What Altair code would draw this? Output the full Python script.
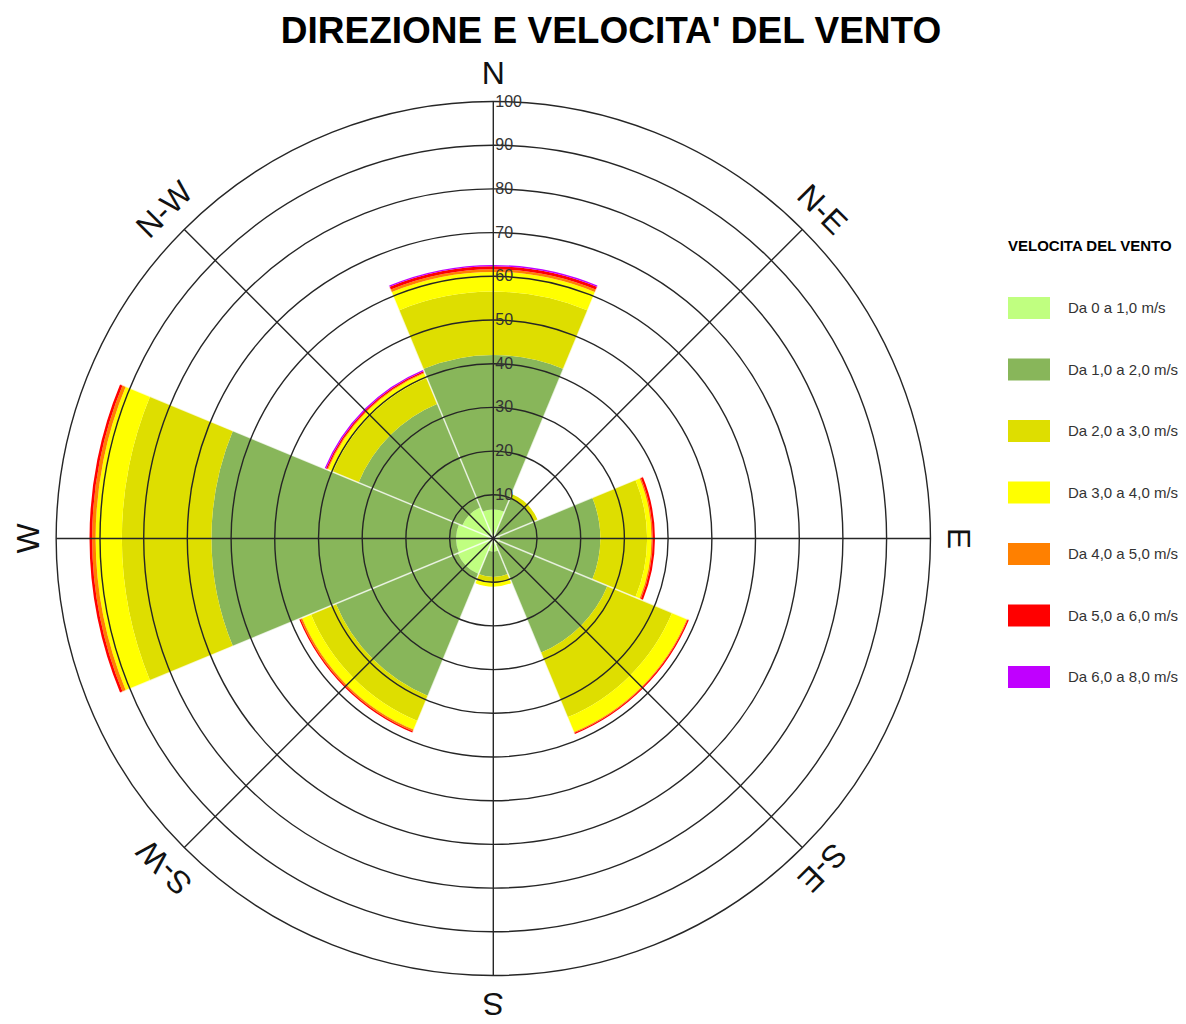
import altair as alt
import pandas as pd
import numpy as np

# ---------------- data ----------------
directions = ["N", "N-E", "E", "S-E", "S", "S-W", "W", "N-W"]
dir_angles = [0, 45, 90, 135, 180, 225, 270, 315]

classes = ["Da 0 a 1,0 m/s", "Da 1,0 a 2,0 m/s", "Da 2,0 a 3,0 m/s",
           "Da 3,0 a 4,0 m/s", "Da 4,0 a 5,0 m/s", "Da 5,0 a 6,0 m/s",
           "Da 6,0 a 8,0 m/s"]
colors = ["#c0ff80", "#88b65a", "#dede00", "#ffff00", "#ff8000", "#ff0000", "#c000ff"]

# frequency of each speed class per direction (N, N-E, E, S-E, S, S-W, W, N-W)
v_0_1 = [6.6, 1.0, 1.5, 1.5, 3.0, 8.8, 8.5, 7.7]
v_1_2 = [35.4, 9.0, 23.0, 26.8, 5.8, 30.2, 56.0, 25.7]
v_2_3 = [14.5, 1.0, 10.7, 16.0, 1.4, 6.2, 20.5, 6.4]
v_3_4 = [4.5, 0.0, 1.0, 3.7, 0.8, 2.2, 6.0, 1.2]
v_4_5 = [0.6, 0.0, 0.3, 0.2, 0.0, 0.4, 0.8, 0.2]
v_5_6 = [0.7, 0.0, 0.5, 0.3, 0.0, 0.3, 0.6, 0.3]
v_6_8 = [0.3, 0.0, 0.0, 0.0, 0.0, 0.0, 0.0, 0.3]
series = [v_0_1, v_1_2, v_2_3, v_3_4, v_4_5, v_5_6, v_6_8]

ring_values = [10, 20, 30, 40, 50, 60, 70, 80, 90, 100]
sector_width = 45

# ---------------- build tables ----------------
rows = []
for i, d in enumerate(directions):
    base = 0.0
    for c, vals in zip(classes, series):
        v = vals[i]
        if v > 0:
            rows.append({"dir": d, "cls": c,
                         "t1": dir_angles[i] - sector_width / 2,
                         "t2": dir_angles[i] + sector_width / 2,
                         "r1": base, "r2": base + v})
        base += v
bars = pd.DataFrame(rows)

rings = pd.DataFrame({"r": ring_values, "t1": 0, "t2": 360})

rad = np.radians(dir_angles)
spokes = pd.DataFrame({"x0": 0.0, "y0": 0.0,
                       "x1": 100 * np.sin(rad), "y1": 100 * np.cos(rad)})
brad = np.radians(np.array(dir_angles) + sector_width / 2)
bounds = pd.DataFrame({"x0": 0.0, "y0": 0.0,
                       "x1": 100 * np.sin(brad), "y1": 100 * np.cos(brad)})

labels = pd.DataFrame({"lab": directions, "ang": dir_angles,
                       "x": 106.3 * np.sin(rad), "y": 106.3 * np.cos(rad)})
ticks = pd.DataFrame({"v": ring_values, "x": 0.0, "txt": [str(v) for v in ring_values]})

# ---------------- geometry ----------------
CX, CY, R = 485.3, 474.5, 437.0
W, H = 1170, 960

theta_scale = alt.Scale(domain=[0, 360], range=[0, 2 * np.pi])
radius_scale = alt.Scale(type="linear", domain=[0, 100], range=[0, R], zero=True, nice=False)
xs = alt.Scale(domain=[-100, 100], range=[CX - R, CX + R], nice=False, zero=False)
ys = alt.Scale(domain=[-100, 100], range=[CY + R, CY - R], nice=False, zero=False)

FONT = "Liberation Sans"

bar_layer = alt.Chart(bars).mark_arc(stroke=None).encode(
    x=alt.value(CX), y=alt.value(CY),
    theta=alt.Theta("t1:Q", scale=theta_scale, stack=None),
    theta2="t2:Q",
    radius=alt.Radius("r2:Q", scale=radius_scale),
    radius2="r1:Q",
    color=alt.Color("cls:N", scale=alt.Scale(domain=classes, range=colors),
                    legend=alt.Legend(
                        title="VELOCITA DEL VENTO", orient="none",
                        legendX=1000, legendY=175, padding=0,
                        titleFont=FONT, titleFontSize=15, titleFontWeight="bold",
                        titleColor="black", titlePadding=33, titleLimit=400,
                        labelFont=FONT, labelFontSize=15, labelColor="#333333",
                        labelLimit=400, labelOffset=18,
                        symbolType="M-1,-0.524H1V0.524H-1Z", symbolSize=1764,
                        symbolStrokeWidth=0, symbolOpacity=1, rowPadding=28.5,
                        direction="vertical")),
)

bound_layer = alt.Chart(bounds).mark_rule(color="#ffffff", strokeWidth=1.5, opacity=0.75).encode(
    x=alt.X("x0:Q", scale=xs, axis=None), y=alt.Y("y0:Q", scale=ys, axis=None),
    x2="x1:Q", y2="y1:Q",
)

ring_layer = alt.Chart(rings).mark_arc(filled=False, stroke="#262626", strokeWidth=1.4).encode(
    x=alt.value(CX), y=alt.value(CY),
    theta=alt.Theta("t1:Q", scale=theta_scale, stack=None),
    theta2="t2:Q",
    radius=alt.Radius("r:Q", scale=radius_scale),
)

spoke_layer = alt.Chart(spokes).mark_rule(color="#262626", strokeWidth=1.4).encode(
    x=alt.X("x0:Q", scale=xs, axis=None), y=alt.Y("y0:Q", scale=ys, axis=None),
    x2="x1:Q", y2="y1:Q",
)

tick_layer = alt.Chart(ticks).mark_text(
    align="left", baseline="middle", dx=2, font=FONT, fontSize=16, color="#333333"
).encode(
    x=alt.X("x:Q", scale=xs, axis=None), y=alt.Y("v:Q", scale=ys, axis=None),
    text="txt:N",
)

label_layer = alt.Chart(labels).mark_text(
    align="center", baseline="middle", font=FONT, fontSize=32, color="#111111"
).encode(
    x=alt.X("x:Q", scale=xs, axis=None), y=alt.Y("y:Q", scale=ys, axis=None),
    text="lab:N",
    angle=alt.Angle("ang:Q", scale=None),
)

chart = alt.layer(
    bar_layer, bound_layer, ring_layer, spoke_layer, tick_layer, label_layer
).properties(
    width=W, height=H,
    autosize=alt.AutoSizeParams(type="none"),
    padding={"left": 0, "top": 56, "right": 0, "bottom": 0},
    title=alt.Title("DIREZIONE E VELOCITA' DEL VENTO", font=FONT, fontSize=37,
                    fontWeight="bold", color="black", anchor="middle",
                    frame="group", dx=18, offset=7),
).configure_view(stroke=None)

chart.save("out.html", embed_options={"renderer": "svg", "actions": False})
